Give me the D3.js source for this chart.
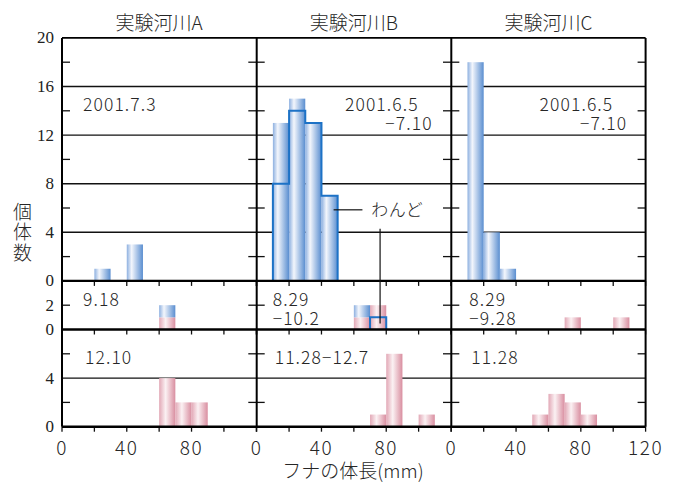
<!DOCTYPE html>
<html>
<head>
<meta charset="utf-8">
<script src="https://cdn.jsdelivr.net/npm/d3@7"></script>
<style>
  html, body { margin: 0; padding: 0; background: #fff; }
  svg text { font-family: "Noto Sans CJK JP", "Noto Sans", sans-serif; font-weight: 300; fill: #262626; }
  svg text.serif { font-family: "Liberation Serif", "DejaVu Serif", serif; font-weight: 400; fill: #222; }
</style>
</head>
<body>
<svg id="chart" width="677" height="486"></svg>
<script>
// River names (column headers)
const rivers = ["実験河川A", "実験河川B", "実験河川C"];
// Lower edge of each 10 mm length class
const binStarts = [0, 10, 20, 30, 40, 50, 60, 70, 80, 90, 100, 110];

// Early-summer survey: all fish (blue), and the fish caught in the わんど (outlined)
const summerBlue = [
  [0, 0, 1, 0, 3, 0, 0, 0, 0, 0, 0, 0],
  [0, 13, 15, 13, 7, 0, 0, 0, 0, 0, 0, 0],
  [0, 18, 4, 1, 0, 0, 0, 0, 0, 0, 0, 0]
];
const summerWando = [
  null,
  [0, 8, 14, 13, 7, 0, 0, 0, 0, 0, 0, 0],
  null
];

// Autumn survey: pink part stacked below blue part
const autumnPink = [
  [0, 0, 0, 0, 0, 0, 1, 0, 0, 0, 0, 0],
  [0, 0, 0, 0, 0, 0, 1, 2, 0, 0, 0, 0],
  [0, 0, 0, 0, 0, 0, 0, 1, 0, 0, 1, 0]
];
const autumnBlue = [
  [0, 0, 0, 0, 0, 0, 1, 0, 0, 0, 0, 0],
  [0, 0, 0, 0, 0, 0, 1, 0, 0, 0, 0, 0],
  [0, 0, 0, 0, 0, 0, 0, 0, 0, 0, 0, 0]
];
const autumnWando = [
  null,
  [0, 0, 0, 0, 0, 0, 0, 1, 0, 0, 0, 0],
  null
];

// Winter survey (pink)
const winterPink = [
  [0, 0, 0, 0, 0, 0, 4, 2, 2, 0, 0, 0],
  [0, 0, 0, 0, 0, 0, 0, 1, 6, 0, 1, 0],
  [0, 0, 0, 0, 0, 1, 2.7, 2, 1, 0, 0, 0]
];

// Survey dates
const summerDates = [["2001.7.3"], ["2001.6.5", "−7.10"], ["2001.6.5", "−7.10"]];
const autumnDates = [["9.18"], ["8.29", "−10.2"], ["8.29", "−9.28"]];
const winterDates = [["12.10"], ["11.28−12.7"], ["11.28"]];

// Axis ticks
const xTickLabels = [0, 40, 80];
const xTicks = [0, 20, 40, 60, 80, 100, 120];
const summerYLabels = [0, 4, 8, 12, 16, 20];
const autumnYLabels = [0, 2];
const winterYLabels = [0, 4];

// ---------- layout ----------
const svg = d3.select("#chart");
const panelLefts = [62, 256.7, 451.3];
const panelW = 194.3;
const unit = 12.15;            // px per fish, shared by all rows
const baseWinter = 426.7;
const baseAutumn = baseWinter - 8 * unit;
const baseSummer = baseAutumn - 4 * unit;

const rows = [
  { max: 20, base: baseSummer, grid: [4, 8, 12, 16], minor: [2, 6, 10, 14, 18], labels: summerYLabels },
  { max: 4,  base: baseAutumn, grid: [],             minor: [2],               labels: autumnYLabels },
  { max: 8,  base: baseWinter, grid: [4],            minor: [2, 6],            labels: winterYLabels }
];
rows.forEach(r => {
  r.y = d3.scaleLinear().domain([0, r.max]).range([r.base, r.base - r.max * unit]);
});
const xScales = panelLefts.map(l => d3.scaleLinear().domain([0, 120]).range([l, l + panelW]));

// ---------- gradients ----------
const defs = svg.append("defs");
function gradient(id, stops) {
  const g = defs.append("linearGradient").attr("id", id)
    .attr("x1", "0").attr("x2", "1").attr("y1", "0").attr("y2", "0");
  stops.forEach(([o, c]) => g.append("stop").attr("offset", o).attr("stop-color", c));
}
gradient("gBlue", [["0%", "#8db0e0"], ["30%", "#f3f6fc"], ["100%", "#5a8ed0"]]);
gradient("gPink", [["0%", "#e2a8b6"], ["40%", "#fbf1f3"], ["100%", "#d98ea0"]]);

svg.append("rect").attr("width", 677).attr("height", 486).attr("fill", "#fff");

const gGrid = svg.append("g");
const gBars = svg.append("g");
const gLines = svg.append("g");
const gText = svg.append("g");

// gridlines
rows.forEach(r => {
  r.grid.forEach(v => {
    gGrid.append("line")
      .attr("x1", panelLefts[0]).attr("x2", panelLefts[2] + panelW)
      .attr("y1", r.y(v)).attr("y2", r.y(v))
      .attr("stroke", "#111").attr("stroke-width", 1.4);
  });
});

// bars
function drawBars(counts, row, x, fill, offsets) {
  const data = binStarts.map((b, i) => ({ b, v: counts[i], o: offsets ? offsets[i] : 0 }))
    .filter(d => d.v > 0);
  gBars.selectAll(null).data(data).enter().append("rect")
    .attr("x", d => x(d.b))
    .attr("width", d => x(d.b + 10) - x(d.b))
    .attr("y", d => row.y(d.o + d.v))
    .attr("height", d => row.y(d.o) - row.y(d.o + d.v))
    .attr("fill", fill);
}
// histogram outline for the わんど subset
function drawOutline(counts, row, x) {
  const idx = counts.map((c, i) => c > 0 ? i : -1).filter(i => i >= 0);
  if (!idx.length) return;
  const pts = [[binStarts[idx[0]], 0]];
  for (let i = idx[0]; i <= idx[idx.length - 1]; i++) {
    pts.push([binStarts[i], counts[i]], [binStarts[i] + 10, counts[i]]);
  }
  pts.push([binStarts[idx[idx.length - 1]] + 10, 0]);
  gLines.append("path")
    .attr("d", d3.line().x(d => x(d[0])).y(d => row.y(d[1]))(pts))
    .attr("fill", "none").attr("stroke", "#1d72c6").attr("stroke-width", 2);
}

rivers.forEach((name, k) => {
  const x = xScales[k];
  drawBars(summerBlue[k], rows[0], x, "url(#gBlue)");
  drawBars(autumnPink[k], rows[1], x, "url(#gPink)");
  drawBars(autumnBlue[k], rows[1], x, "url(#gBlue)", autumnPink[k]);
  drawBars(winterPink[k], rows[2], x, "url(#gPink)");
  if (summerWando[k]) drawOutline(summerWando[k], rows[0], x);
  if (autumnWando[k]) drawOutline(autumnWando[k], rows[1], x);
});

// minor y ticks (inward on both sides of each panel)
rows.forEach(r => {
  xScales.forEach(x => {
    r.minor.forEach(v => {
      gLines.append("line").attr("x1", x(0)).attr("x2", x(0) + 8)
        .attr("y1", r.y(v)).attr("y2", r.y(v)).attr("stroke", "#111").attr("stroke-width", 1.3);
      gLines.append("line").attr("x1", x(120) - 8).attr("x2", x(120))
        .attr("y1", r.y(v)).attr("y2", r.y(v)).attr("stroke", "#111").attr("stroke-width", 1.3);
    });
  });
  // x ticks below each row baseline
  xScales.forEach(x => {
    xTicks.forEach(t => {
      gLines.append("line").attr("x1", x(t)).attr("x2", x(t))
        .attr("y1", r.base).attr("y2", r.base + 5).attr("stroke", "#111").attr("stroke-width", 1.3);
    });
  });
});

// frame: horizontal row separators and outer box
const frameTop = rows[0].y(20);
[frameTop, baseSummer, baseAutumn, baseWinter].forEach((yv, i) => {
  gLines.append("line").attr("x1", panelLefts[0]).attr("x2", panelLefts[2] + panelW)
    .attr("y1", yv).attr("y2", yv).attr("stroke", "#000").attr("stroke-width", i === 0 ? 1.6 : 2.4);
});
[panelLefts[0], panelLefts[1], panelLefts[2], panelLefts[2] + panelW].forEach(xv => {
  gLines.append("line").attr("x1", xv).attr("x2", xv)
    .attr("y1", frameTop).attr("y2", baseWinter).attr("stroke", "#000").attr("stroke-width", 2);
});

// わんど leader lines and label
const xB = xScales[1];
gLines.append("line").attr("x1", xB(47.5)).attr("x2", xB(65.3))
  .attr("y1", rows[0].y(5.85)).attr("y2", rows[0].y(5.85)).attr("stroke", "#111").attr("stroke-width", 1.2);
gLines.append("line").attr("x1", xB(76.2)).attr("x2", xB(76.2))
  .attr("y1", rows[0].y(4.3)).attr("y2", rows[1].y(0.5)).attr("stroke", "#111").attr("stroke-width", 1.2);
gText.append("text").attr("x", xB(70.8)).attr("y", rows[0].y(5.85) + 6)
  .attr("font-size", 17).attr("letter-spacing", 0.5).text("わんど");

// column headers
rivers.forEach((name, k) => {
  gText.append("text").attr("x", xScales[k](60)).attr("y", 30)
    .attr("text-anchor", "middle").attr("font-size", 19).text(name);
});

// multi-line label helper: one text element, one tspan per line
function multiLine(x, y, lines, step, anchor, dxs) {
  const t = gText.append("text").attr("font-size", 17.5).attr("letter-spacing", 1.1)
    .attr("text-anchor", anchor);
  lines.forEach((s, j) => {
    t.append("tspan").attr("x", x + (dxs ? dxs[j] : 0)).attr("y", y + j * step).text(s);
  });
}

// survey dates
multiLine(panelLefts[0] + 21, 111, summerDates[0], 18.5, "start");
[1, 2].forEach(k => multiLine(panelLefts[k] + 162, 111, summerDates[k], 18.5, "end", [0, 14]));
const autumnX = [21, 16, 18];
autumnDates.forEach((lines, k) => multiLine(panelLefts[k] + autumnX[k], 306, lines, 18.5, "start"));
const winterX = [23, 18, 20];
winterDates.forEach((lines, k) => multiLine(panelLefts[k] + winterX[k], 363.5, lines, 18.5, "start"));

// y tick labels (left side)
rows.forEach(r => {
  r.labels.forEach(v => {
    gText.append("text").attr("class", "serif")
      .attr("x", 54).attr("y", r.y(v) + 5.5)
      .attr("text-anchor", "end").attr("font-size", 17).text(v);
  });
});

// x tick labels under every panel, plus 120 at the far right
xScales.forEach((x, k) => {
  const vals = k === 2 ? xTickLabels.concat([120]) : xTickLabels;
  vals.forEach(v => {
    gText.append("text").attr("x", x(v)).attr("y", 455)
      .attr("text-anchor", "middle").attr("font-size", 19).attr("letter-spacing", 1.5).text(v);
  });
});

// axis titles
gText.append("text").attr("x", 353).attr("y", 478)
  .attr("text-anchor", "middle").attr("font-size", 19).text("フナの体長(mm)");
gText.append("text").attr("x", 22.5).attr("y", 202)
  .attr("writing-mode", "vertical-rl").attr("font-size", 19).attr("letter-spacing", 1.5)
  .text("個体数");
</script>
</body>
</html>
